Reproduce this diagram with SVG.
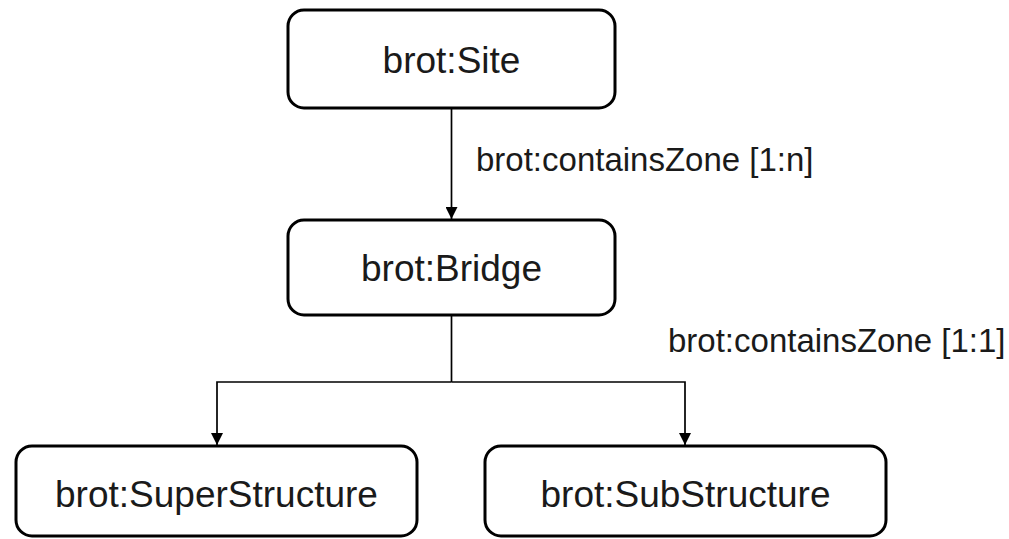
<svg xmlns="http://www.w3.org/2000/svg" width="1009" height="539" viewBox="0 0 1009 539">
  <style>
    .box { fill: #ffffff; stroke: #000000; stroke-width: 3; }
    .node-text { font-family: "Liberation Sans", Arial, sans-serif; font-size: 37px; fill: #1a1a1a; text-anchor: middle; }
    .edge { fill: none; stroke: #000000; stroke-width: 1.7; }
    .edge-label { font-family: "Liberation Sans", Arial, sans-serif; font-size: 33px; fill: #1a1a1a; }
  </style>
  <defs>
    <marker id="arrow" viewBox="0 0 10 10" refX="10" refY="5" markerWidth="12" markerHeight="12" markerUnits="userSpaceOnUse" orient="auto">
      <path d="M0,0 L10,5 L0,10 Z" fill="#000000"/>
    </marker>
  </defs>
  <rect width="1009" height="539" fill="#ffffff"/>
  <g id="connectors">
    <line class="edge" x1="451.5" y1="108" x2="451.5" y2="219" marker-end="url(#arrow)"/>
    <polyline class="edge" points="451.5,315 451.5,382"/>
    <polyline class="edge" points="451.5,382 217,382 217,445" marker-end="url(#arrow)"/>
    <polyline class="edge" points="451.5,382 685,382 685,445" marker-end="url(#arrow)"/>
    <text class="edge-label" x="476" y="171">brot:containsZone [1:n]</text>
    <text class="edge-label" x="668" y="352">brot:containsZone [1:1]</text>
  </g>
  <g id="node-site">
    <rect class="box" x="288" y="10" width="327" height="98" rx="16" ry="16"/>
    <text class="node-text" x="451.5" y="73">brot:Site</text>
  </g>
  <g id="node-bridge">
    <rect class="box" x="288" y="220" width="327" height="95" rx="16" ry="16"/>
    <text class="node-text" x="451.5" y="281">brot:Bridge</text>
  </g>
  <g id="node-superstructure">
    <rect class="box" x="16" y="446" width="401" height="90" rx="16" ry="16"/>
    <text class="node-text" x="216.5" y="507">brot:SuperStructure</text>
  </g>
  <g id="node-substructure">
    <rect class="box" x="485" y="446" width="401" height="90" rx="16" ry="16"/>
    <text class="node-text" x="685.5" y="507">brot:SubStructure</text>
  </g>
</svg>
